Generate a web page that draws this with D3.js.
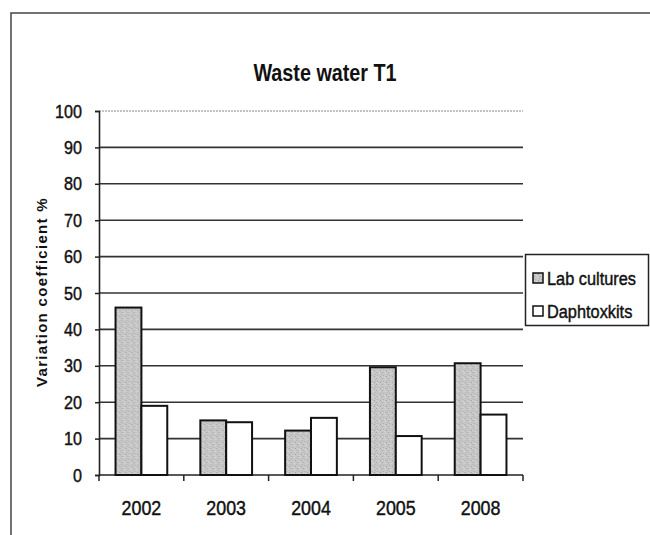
<!DOCTYPE html>
<html>
<head>
<meta charset="utf-8">
<script src="https://cdn.jsdelivr.net/npm/d3@7/dist/d3.min.js"></script>
<style>
  html, body { margin: 0; padding: 0; background: #fff; }
  svg { display: block; }
  text { font-family: "Liberation Sans", Arial, sans-serif; fill: #111; }
  .heavy { stroke: #111; stroke-width: 0.45px; }
</style>
</head>
<body>
<svg id="chart" width="650" height="535"></svg>
<script>
const years = ["2002", "2003", "2004", "2005", "2008"];
const labCultures = [46, 15, 12.2, 29.6, 30.7];
const daphtoxkits = [19, 14.5, 15.7, 10.7, 16.6];
const seriesNames = ["Lab cultures", "Daphtoxkits"];
const yTicks = [0, 10, 20, 30, 40, 50, 60, 70, 80, 90, 100];

const svg = d3.select("#chart");
const NARROW = 0.85; // horizontal squeeze for a narrow-face look

// place a horizontally condensed label at (x, y)
function narrowText(parent, x, y, str, size, anchor, weight, sx) {
  return parent.append("g").attr("transform", `translate(${x},${y}) scale(${sx || NARROW},1)`)
    .append("text").attr("text-anchor", anchor || "start")
    .attr("font-size", size).attr("font-weight", weight || "normal").text(str);
}

// stippled grey fill for the lab series
const defs = svg.append("defs");
const pat = defs.append("pattern")
  .attr("id", "stipple").attr("patternUnits", "userSpaceOnUse")
  .attr("width", 6).attr("height", 6);
pat.append("rect").attr("width", 6).attr("height", 6).attr("fill", "#c6c6c6");
[[0,0,"#a8a8a8"],[3,1,"#dcdcdc"],[1,3,"#b0b0b0"],[4,4,"#a0a0a0"],[2,5,"#dadada"],[5,2,"#b4b4b4"],[0,4,"#d4d4d4"]]
  .forEach(([x, y, c]) => pat.append("rect").attr("x", x).attr("y", y).attr("width", 1).attr("height", 1).attr("fill", c));

// outer frame
svg.append("path")
  .attr("d", `M11,535 L11,13 L650,13`)
  .attr("fill", "none").attr("stroke", "#444").attr("stroke-width", 1.5);

const x = d3.scaleBand().domain(years).range([99, 523]).paddingInner(0.39).paddingOuter(0.195);
const x1 = d3.scaleBand().domain(seriesNames).range([0, x.bandwidth()]);
const y = d3.scaleLinear().domain([0, 100]).range([475, 111]);

// title
narrowText(svg, 325, 81, "Waste water T1", 23, "middle", "bold", 0.86);

// horizontal grid
svg.append("g").selectAll("line").data(yTicks.filter(d => d > 0)).join("line")
  .attr("x1", 99).attr("x2", 523)
  .attr("y1", d => y(d)).attr("y2", d => y(d))
  .attr("stroke", d => d === 100 ? "#888" : "#333")
  .attr("stroke-width", d => d === 100 ? 1 : 1.6)
  .attr("stroke-dasharray", d => d === 100 ? "2,1" : null);

// y axis
const yAxis = svg.append("g").attr("transform", "translate(99,0)")
  .call(d3.axisLeft(y).tickValues(yTicks).tickSize(4).tickPadding(16));
yAxis.select(".domain").attr("stroke", "#222").attr("stroke-width", 1.6);
yAxis.selectAll(".tick line").attr("stroke", "#222").attr("stroke-width", 1.5);
yAxis.selectAll(".tick text").attr("font-size", 19).attr("fill", "#111")
  .attr("font-family", "'Liberation Sans', Arial, sans-serif")
  .attr("class", "heavy")
  .attr("transform", `scale(${NARROW},1)`);

// x axis with ticks at category boundaries
const xAxisG = svg.append("g").attr("transform", "translate(0,475)");
xAxisG.append("line").attr("x1", 99).attr("x2", 523).attr("stroke", "#222").attr("stroke-width", 1.6);
const step = x.step();
xAxisG.selectAll("line.tk").data(d3.range(years.length + 1)).join("line")
  .attr("class", "tk")
  .attr("x1", i => 99 + i * step).attr("x2", i => 99 + i * step)
  .attr("y1", 0).attr("y2", 6).attr("stroke", "#222").attr("stroke-width", 1.5);
years.forEach(d => narrowText(xAxisG, x(d) + x.bandwidth() / 2, 40, d, 21, "middle").attr("class", "heavy"));

// bars
const groups = svg.append("g").selectAll("g").data(years).join("g")
  .attr("transform", d => `translate(${x(d)},0)`);
groups.append("rect")
  .attr("x", x1("Lab cultures")).attr("width", x1.bandwidth())
  .attr("y", (d, i) => y(labCultures[i])).attr("height", (d, i) => y(0) - y(labCultures[i]))
  .attr("fill", "url(#stipple)").attr("stroke", "#111").attr("stroke-width", 2);
groups.append("rect")
  .attr("x", x1("Daphtoxkits")).attr("width", x1.bandwidth())
  .attr("y", (d, i) => y(daphtoxkits[i])).attr("height", (d, i) => y(0) - y(daphtoxkits[i]))
  .attr("fill", "#fff").attr("stroke", "#111").attr("stroke-width", 2);

// y axis title
svg.append("text")
  .attr("transform", "translate(47,292) rotate(-90)")
  .attr("text-anchor", "middle").attr("font-size", 15).attr("font-weight", "bold")
  .attr("letter-spacing", 1.3)
  .text("Variation coefficient %");

// legend
const lg = svg.append("g");
lg.append("rect").attr("x", 525.5).attr("y", 254.5).attr("width", 123).attr("height", 71)
  .attr("fill", "#fff").attr("stroke", "#222").attr("stroke-width", 1.5);
const fills = ["url(#stipple)", "#fff"];
seriesNames.forEach((name, i) => {
  const cy = 278 + i * 33;
  lg.append("rect").attr("x", 533).attr("y", cy - 5).attr("width", 10).attr("height", 10)
    .attr("fill", fills[i]).attr("stroke", "#111").attr("stroke-width", 1.5);
  narrowText(lg, 547, cy + 7, name, 19, "start", "normal", 0.86).attr("class", "heavy");
});
</script>
</body>
</html>
